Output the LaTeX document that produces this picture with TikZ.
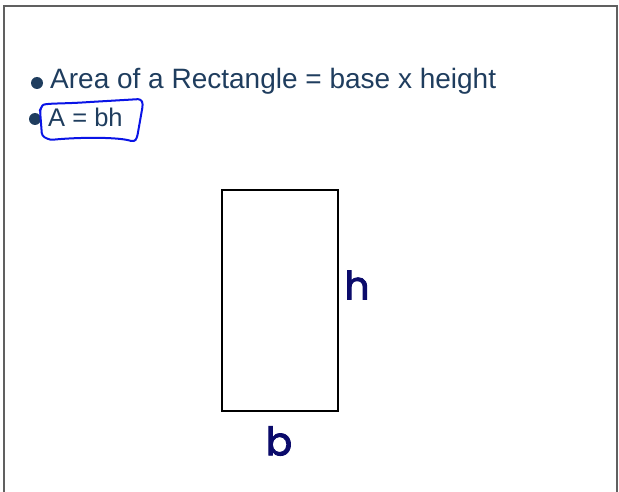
\documentclass[tikz,border=0pt]{standalone}
\usepackage{fontspec}
\setmainfont{Liberation Sans}
\newfontfamily\handfont[FakeBold=2.5]{Poppins}
\definecolor{slidetext}{HTML}{1F3D5E}
\definecolor{penblue}{HTML}{0A14E6}
\definecolor{inknavy}{HTML}{0B0B6B}
\definecolor{framegray}{HTML}{606060}
\tikzset{
  bulletdot/.style={circle,fill=slidetext,inner sep=0pt,minimum size=12pt},
  bullettext/.style={anchor=base west,inner sep=0pt,text=slidetext,
    font=\fontsize{28}{30}\selectfont},
  handlabel/.style={inner sep=0pt,text=inknavy,font=\handfont\fontsize{39}{42}\selectfont}
}
\begin{document}
\begin{tikzpicture}[x=1pt,y=-1pt]
        \useasboundingbox (0,0) rectangle (619,492);
        % slide frame
        \draw[framegray,line width=1.2pt] (4,492) -- (4,6) -- (617,6) -- (617,492);
        % bullet points
        \node[bulletdot] (dot1) at (37,83) {};
        \node[bullettext] (line1) at (50,89) {Area of a Rectangle = base x height};
        \node[bulletdot] (dot2) at (35,119) {};
        \node[bullettext,font=\fontsize{25.5}{28}\selectfont] (line2) at (48,127) {A = bh};
        % pen loop round the formula
        \draw[penblue,line width=2pt,line join=round,rounded corners=3pt]
            (41,108) .. controls (44,103) and (60,104) .. (90,102)
            -- (141,99) -- (143,104) -- (137,138) -- (134,142)
            .. controls (120,137) and (80,137) .. (50,140)
            -- (42,136) -- (40,110) -- cycle;
        % the rectangle
        \draw[line width=2.2pt] (222,190) rectangle (338,411);
        \node[handlabel] (hlabel) at (357,285) {h};
        \node[handlabel] (blabel) at (279,441) {b};
    \end{tikzpicture}
\end{document}
